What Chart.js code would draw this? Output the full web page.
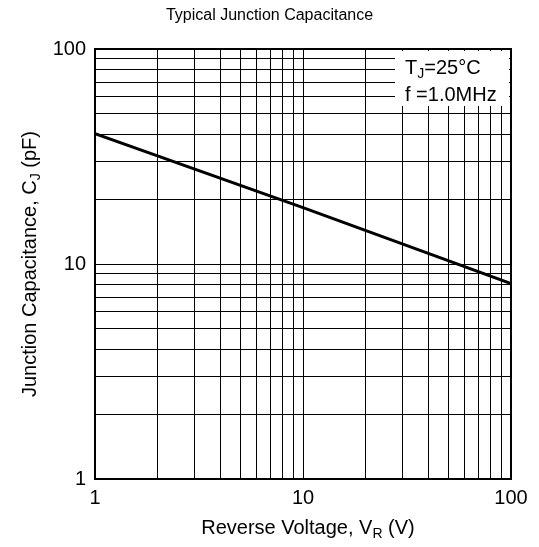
<!DOCTYPE html>
<html>
<head>
<meta charset="utf-8">
<script src="https://cdn.jsdelivr.net/npm/chart.js@4.4.1/dist/chart.umd.min.js"></script>
<style>
  html, body { margin: 0; padding: 0; background: #fff; }
  canvas { display: block; }
</style>
</head>
<body>
<canvas id="chart" width="539" height="547"></canvas>
<script>
// reverse voltage (V) and junction capacitance (pF)
const voltage = [1, 10, 100];
const capacitance = [40.4, 18.3, 8.1];

// grid lines of both log axes and the ones that get a label
const gridValues = [1, 2, 3, 4, 5, 6, 7, 8, 9, 10, 20, 30, 40, 50, 60, 70, 80, 90, 100];
const labelValues = [1, 10, 100];

const chartTitle = 'Typical Junction Capacitance';
const xTitle = [['Reverse Voltage, V', false], ['R', true], [' (V)', false]];
const yTitle = [['Junction Capacitance, C', false], ['J', true], [' (pF)', false]];
const notes = [
  [['T', false], ['J', true], ['=25°C', false]],
  [['f =1.0MHz', false]]
];

const FONT = '"Liberation Sans", Arial, Helvetica, sans-serif';

// draws text made of normal and subscript pieces, centred on x
const drawParts = (ctx, parts, x, y, size, align) => {
  const subSize = Math.round(size * 0.72);
  let total = 0;
  parts.forEach(([txt, sub]) => {
    ctx.font = `${sub ? subSize : size}px ${FONT}`;
    total += ctx.measureText(txt).width;
  });
  let cx = align === 'left' ? x : x - total / 2;
  ctx.textAlign = 'left';
  ctx.textBaseline = 'alphabetic';
  parts.forEach(([txt, sub]) => {
    ctx.font = `${sub ? subSize : size}px ${FONT}`;
    ctx.fillText(txt, cx, sub ? y + size * 0.2 : y);
    cx += ctx.measureText(txt).width;
  });
};

const decorations = {
  id: 'decorations',
  afterDraw(chart) {
    const { ctx, chartArea: a } = chart;
    ctx.save();

    // notes box in the upper right corner
    ctx.fillStyle = '#fff';
    ctx.fillRect(a.right - 116, a.top + 2, 114, 55);
    ctx.fillStyle = '#000';
    notes.forEach((line, i) => {
      drawParts(ctx, line, a.right - 106, a.top + 25 + i * 27, 20, 'left');
    });

    // frame
    ctx.strokeStyle = '#000';
    ctx.lineWidth = 2;
    ctx.strokeRect(a.left, a.top, a.right - a.left, a.bottom - a.top);

    // titles
    ctx.font = `16px ${FONT}`;
    ctx.textAlign = 'center';
    ctx.textBaseline = 'middle';
    ctx.fillText(chartTitle, chart.width / 2, 16);

    drawParts(ctx, xTitle, (a.left + a.right) / 2 + 5, 534, 20, 'center');

    ctx.translate(36, (a.top + a.bottom) / 2);
    ctx.rotate(-Math.PI / 2);
    drawParts(ctx, yTitle, 0, 0, 20, 'center');
    ctx.restore();
  }
};

const logAxis = (extra) => Object.assign({
  type: 'logarithmic',
  min: 1,
  max: 100,
  grid: { color: '#000', lineWidth: 1, drawTicks: false },
  border: { display: false },
  ticks: {
    color: '#000',
    font: { family: FONT, size: 20 },
    autoSkip: false,
    maxRotation: 0,
    callback: (v) => labelValues.includes(v) ? String(v) : ''
  },
  afterBuildTicks: (scale) => {
    scale.ticks = gridValues.map(v => ({ value: v }));
  }
}, extra);

new Chart(document.getElementById('chart').getContext('2d'), {
  type: 'line',
  data: {
    datasets: [{
      data: voltage.map((v, i) => ({ x: v, y: capacitance[i] })),
      borderColor: '#000',
      borderWidth: 3,
      pointRadius: 0,
      tension: 0,
      fill: false
    }]
  },
  options: {
    responsive: false,
    animation: false,
    devicePixelRatio: 1,
    layout: { padding: { top: 49, right: 28, left: 0, bottom: 0 } },
    plugins: {
      legend: { display: false },
      title: { display: false },
      tooltip: { enabled: false }
    },
    scales: {
      x: logAxis({
        position: 'bottom',
        afterFit: (scale) => { scale.height = 68; }
      }),
      y: logAxis({
        position: 'left',
        afterFit: (scale) => { scale.width = 95; }
      })
    }
  },
  plugins: [decorations]
});

// padding of the tick labels away from the frame
const chart = Chart.getChart('chart');
chart.options.scales.x.ticks.padding = 7;
chart.options.scales.y.ticks.padding = 9;
chart.update();
</script>
</body>
</html>
